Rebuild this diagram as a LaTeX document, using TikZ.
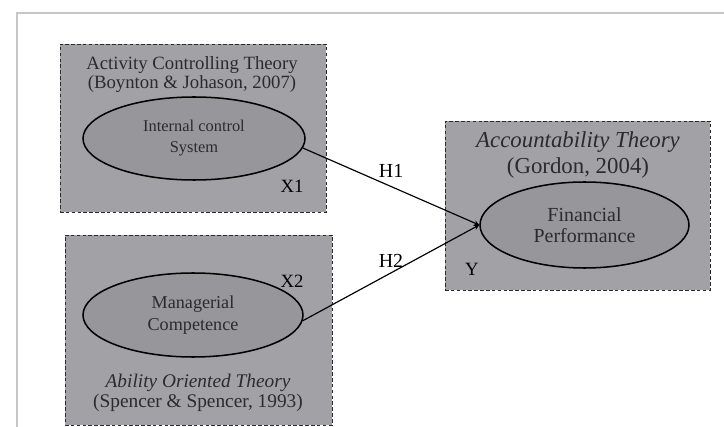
\documentclass[tikz,border=0pt]{standalone}
\usepackage{fontspec}
\setmainfont{Liberation Serif}
\usepackage{tikz}
\usepackage{xcolor}
\usetikzlibrary{shapes.geometric}

\definecolor{boxgray}{HTML}{A1A1A6}
\definecolor{ovalgray}{HTML}{96969B}
\definecolor{inkgray}{HTML}{2A2A30}

\begin{document}
\begin{tikzpicture}[x=0.03cm,y=-0.03cm,
    theory/.style={draw=inkgray,densely dashed,line width=0.6pt,fill=boxgray,
        minimum width=7.98cm,minimum height=5.04cm,inner sep=0pt},
    construct/.style={ellipse,draw=black,line width=1.3pt,fill=ovalgray,
        minimum width=6.5cm,minimum height=2.4cm,align=center,inner sep=0pt,
        font=\fontsize{14}{18}\selectfont,text=inkgray},
    caption/.style={align=center,font=\fontsize{16}{16.5}\selectfont,text=inkgray},
    tag/.style={font=\fontsize{16}{18}\selectfont,text=black},
    flow/.style={->,>=stealth,draw=black,line width=1pt}
]
    \useasboundingbox (0,0) rectangle (724,427);
    \draw[gray!45,line width=1.2pt] (17,427) -- (17,13) -- (724,13);

    % independent variables
    \node[theory] (box1) at (193,128) {};
    \node[caption] (cap1) at (192,74.5)
        {Activity Controlling Theory\\(Boynton \& Johason, 2007)};
    \node[construct,minimum width=6.66cm,minimum height=2.49cm] (ics) at (194,138.5)
        {Internal control\\System};
    \node[tag] (x1) at (292,186) {X1};

    \node[theory,minimum width=8.01cm,minimum height=5.7cm] (box2) at (198.5,330) {};
    \node[construct,minimum width=6.6cm,minimum height=2.52cm,
        font=\fontsize{15.5}{19}\selectfont] (mc) at (193,315)
        {Managerial\\Competence};
    \node[tag] (x2) at (292,281) {X2};
    \node[caption,font=\fontsize{16.5}{17.5}\selectfont] (cap2) at (198,393)
        {\textit{Ability Oriented Theory}\\(Spencer \& Spencer, 1993)};

    % dependent variable
    \node[theory,minimum width=7.95cm,minimum height=5.07cm] (box3) at (577.5,205.5) {};
    \node[caption,font=\fontsize{19.5}{22}\selectfont] (cap3) at (578,155)
        {\textit{Accountability Theory}\\(Gordon, 2004)};
    \node[construct,minimum width=6.27cm,minimum height=2.58cm,
        font=\fontsize{17}{17.5}\selectfont] (fp) at (584.5,225)
        {Financial\\Performance};
    \node[tag] (y) at (472,269) {Y};

    \draw[flow] (ics.-5) -- (fp.west) node[tag,font=\fontsize{17}{18}\selectfont,pos=0.5,above=4pt] (h1) {H1};
    \draw[flow] (mc.-3) -- (fp.west) node[tag,font=\fontsize{17}{18}\selectfont,pos=0.5,above=1pt] (h2) {H2};
\end{tikzpicture}
\end{document}
